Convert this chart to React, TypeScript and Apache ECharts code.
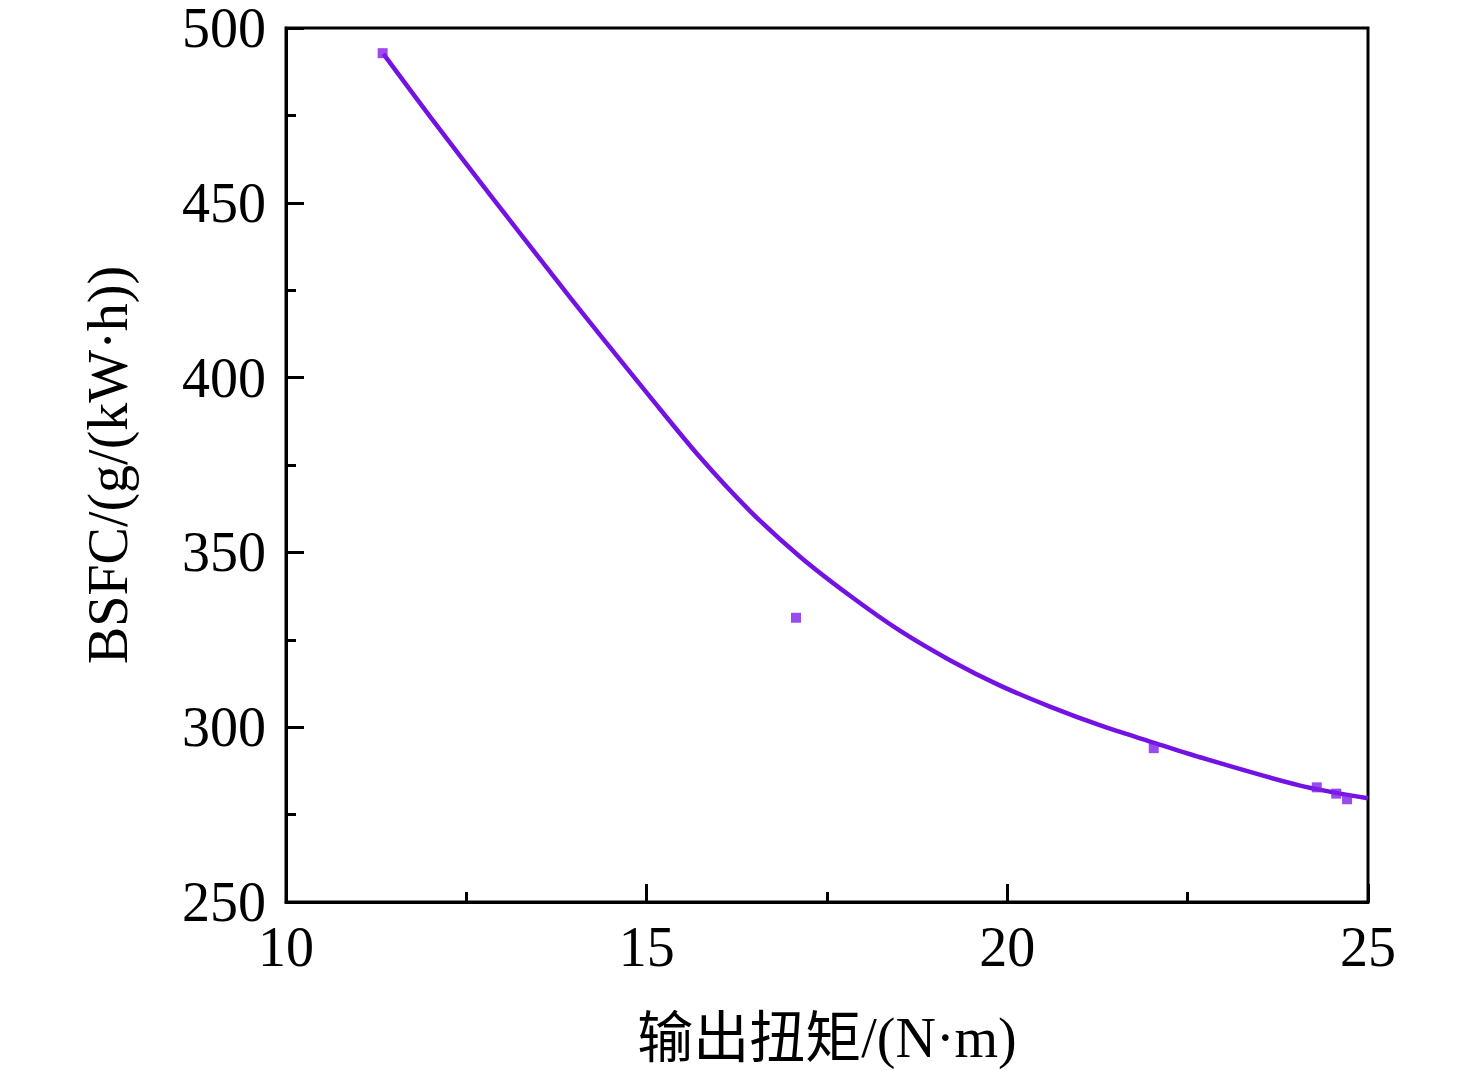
import React, { useEffect, useRef } from "react";
import * as echarts from "echarts";

// Measured data points (torque N·m, BSFC g/(kW·h))
const pointX = [11.34, 17.07, 22.03, 24.29, 24.56, 24.71];
const pointY = [492.8, 331.3, 294.0, 282.8, 281.0, 279.4];

// Fitted curve
const curveX = [11.35, 12.0, 12.87, 13.94, 14.35, 15.05, 15.74, 16.43, 17.13, 17.82, 18.51, 19.21, 19.9, 20.59, 21.29, 21.98, 22.67, 24.06, 25.0];
const curveY = [492.6, 474.6, 451.2, 422.9, 412.3, 394.4, 377.2, 361.9, 348.7, 337.6, 327.6, 319.1, 311.9, 305.9, 300.5, 295.9, 291.4, 283.3, 279.7];

const xMin = 10, xMax = 25, xStep = 5;
const yMin = 250, yMax = 500, yStep = 50;
const xTitle = "输出扭矩/(N·m)";
const yTitle = "BSFC/(g/(kW·h))";

const FONT = '"Liberation Serif", "Times New Roman", "Noto Sans CJK SC", serif';
const PURPLE = "#7412E4";

export default function App() {
  const ref = useRef<HTMLDivElement>(null);
  useEffect(() => {
    if (!ref.current) return;
    const chart = echarts.init(ref.current, null, { renderer: "svg" });
    const axisLine = { show: true, lineStyle: { color: "#000", width: 3 } };
    chart.setOption({
      animation: false,
      backgroundColor: "#fff",
      grid: { left: 286, right: 108, top: 28, bottom: 167, show: true, borderColor: "#000", borderWidth: 3 },
      xAxis: {
        type: "value",
        min: xMin,
        max: xMax,
        interval: xStep,
        axisLine,
        axisTick: { show: true, inside: true, length: 18, lineStyle: { color: "#000", width: 3 } },
        minorTick: { show: true, splitNumber: 2, length: 10, lineStyle: { color: "#000", width: 3 } },
        splitLine: { show: false },
        axisLabel: { color: "#000", fontFamily: FONT, fontSize: 56, lineHeight: 50, margin: 20 },
        name: xTitle,
        nameLocation: "middle",
        nameGap: 108,
        nameTextStyle: { color: "#000", fontFamily: FONT, fontSize: 56 },
      },
      yAxis: {
        type: "value",
        min: yMin,
        max: yMax,
        interval: yStep,
        axisLine,
        axisTick: { show: true, inside: true, length: 18, lineStyle: { color: "#000", width: 3 } },
        minorTick: { show: true, splitNumber: 2, length: 10, lineStyle: { color: "#000", width: 3 } },
        splitLine: { show: false },
        axisLabel: { color: "#000", fontFamily: FONT, fontSize: 56, lineHeight: 50, margin: 20 },
        name: yTitle,
        nameLocation: "middle",
        nameGap: 150,
        nameTextStyle: { color: "#000", fontFamily: FONT, fontSize: 56 },
      },
      series: [
        {
          type: "line",
          data: curveX.map((x, i) => [x, curveY[i]]),
          smooth: 0.3,
          showSymbol: false,
          lineStyle: { color: PURPLE, width: 4.5 },
          z: 2,
        },
        {
          type: "scatter",
          data: pointX.map((x, i) => [x, pointY[i]]),
          symbol: "rect",
          symbolSize: 10,
          itemStyle: { color: "#7F1EEA" },
          z: 3,
        },
      ],
    });
    return () => chart.dispose();
  }, []);
  return <div ref={ref} style={{ position: "fixed", left: 0, top: 0, width: 1476, height: 1071 }} />;
}
